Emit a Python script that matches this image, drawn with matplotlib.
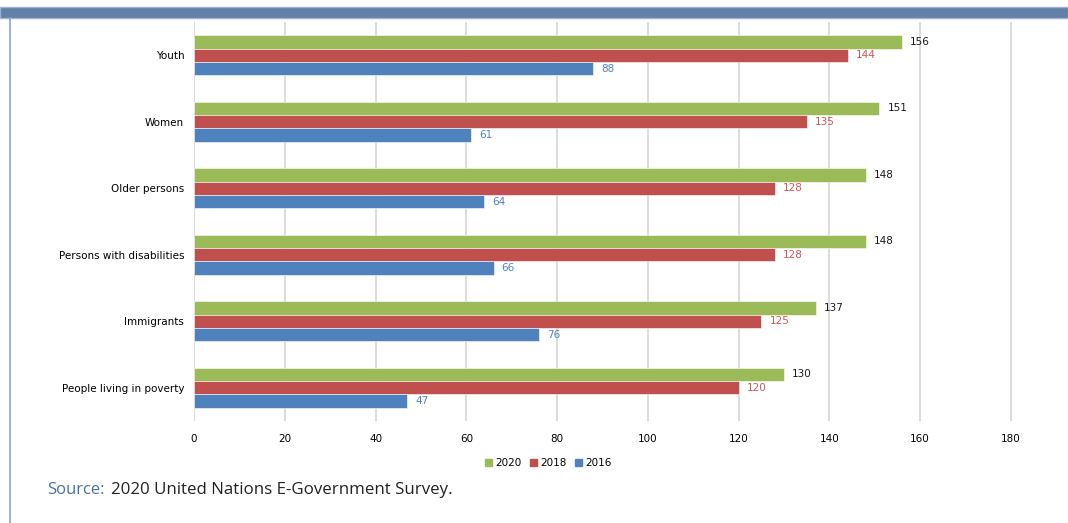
import numpy as np
import matplotlib
matplotlib.use('Agg')
import matplotlib.pyplot as plt
from matplotlib.patches import Rectangle
from matplotlib.lines import Line2D

categories = ['Youth', 'Women', 'Older persons', 'Persons with disabilities',
              'Immigrants', 'People living in poverty']
v2020 = [156, 151, 148, 148, 137, 130]
v2018 = [144, 135, 128, 128, 125, 120]
v2016 = [88, 61, 64, 66, 76, 47]
years = ['2020', '2018', '2016']
xticks = [0, 20, 40, 60, 80, 100, 120, 140, 160, 180]

GREEN, RED, BLUE = '#9bbb59', '#c0504d', '#4f81bd'
label_colors = ['#1a1a1a', '#d0555a', '#4f81bd']

fig = plt.figure(figsize=(10.68, 5.23), dpi=100)

# header band and left border
fig.patches.append(Rectangle((0, 1 - 18/523), 1, 11/523, transform=fig.transFigure,
                             facecolor='#6380a8', edgecolor='#9fb2cf', lw=1))
fig.lines.append(Line2D([10/1068, 10/1068], [0, 1 - 18/523], transform=fig.transFigure,
                        color='#8ea3c4', lw=1.2))

ax = fig.add_axes([194/1068, 1 - 421/523, (1035 - 194)/1068, (421 - 22)/523])
y = np.arange(len(categories))
h = 0.2
series = [v2020, v2018, v2016]
colors = [GREEN, RED, BLUE]
offsets = [-h, 0, h]
for vals, c, off, lc, yr in zip(series, colors, offsets, label_colors, years):
    ax.barh(y + off, vals, height=h, color=c, edgecolor='white', lw=0.4, label=yr, zorder=3)
    for yi, v in zip(y, vals):
        ax.text(v + 1.8, yi + off, str(v), va='center', ha='left', fontsize=7.5, color=lc)

ax.set_ylim(len(categories) - 0.5, -0.5)
ax.set_xlim(0, 185.3)
ax.set_xticks(xticks)
ax.set_yticks(y)
ax.set_yticklabels(categories, fontsize=7.5)
ax.tick_params(axis='x', labelsize=7.5, length=0, pad=9)
ax.tick_params(axis='y', length=0, pad=7)
ax.grid(axis='x', color='#d9d9d9', lw=1.3, zorder=0)
for s in ax.spines.values():
    s.set_visible(False)

handles = [Rectangle((0, 0), 1, 1, color=c) for c in colors]
fig.legend(handles, years, loc='center', bbox_to_anchor=(548/1068, 1 - 463/523),
           ncol=3, frameon=False, fontsize=7.5, handlelength=0.7, handleheight=0.7,
           handletextpad=0.3, columnspacing=0.8)

fig.text(47/1068, 1 - 490/523, 'Source:', fontsize=12, color='#4a6fa5',
         family='Open Sans', va='center')
fig.text(111/1068, 1 - 490/523, '2020 United Nations E-Government Survey.', fontsize=12.2,
         color='#222222', family='Open Sans', va='center')

fig.savefig('out.png', dpi=100)
